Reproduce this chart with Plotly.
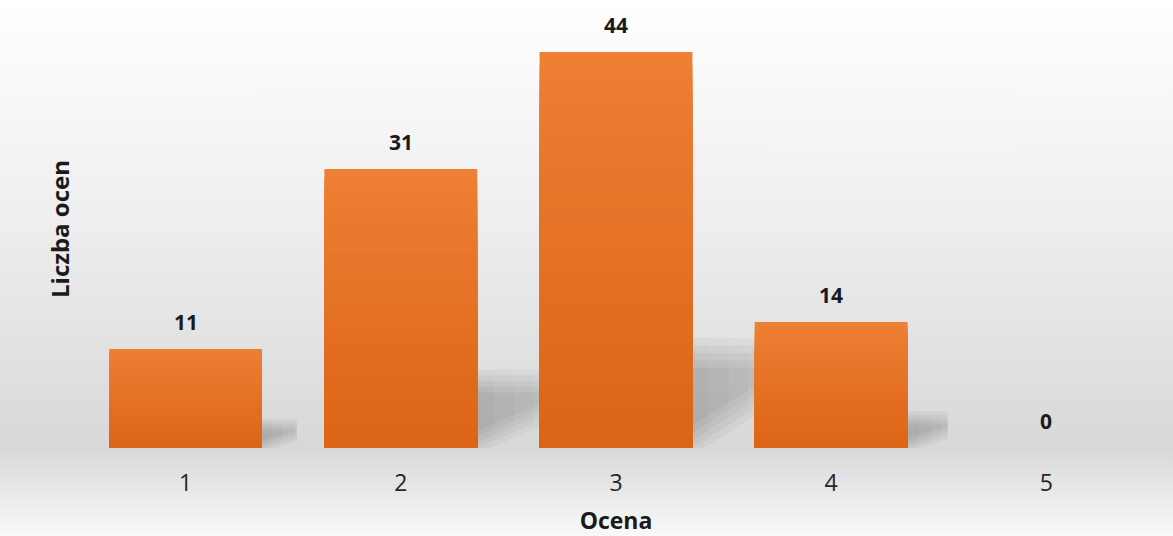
import base64
import plotly.graph_objects as go

# Rozkład ocen
oceny = ["1", "2", "3", "4", "5"]
liczba_ocen = [11, 31, 44, 14, 0]

BAR_TOP = (238, 127, 52)
BAR_BOTTOM = (220, 100, 22)
LABEL_COLOR = "#1a1a1a"
TICK_COLOR = "#262626"
FONT = "'Open Sans', sans-serif"
BAR_WIDTH = 0.71
N_BANDS = 30

# figure geometry (px)
W, H = 1173, 536
M_L, M_R, M_T, M_B = 78, 19, 10, 88
plot_w = W - M_L - M_R
plot_h = H - M_T - M_B
PX_X = plot_w / len(oceny)   # px per category
PX_Y = 9.0                   # px per unit of value
xs = list(range(len(oceny)))

# background: white at top, grey around the baseline, lighter again at the bottom
stop = (M_T + plot_h) / H
svg = f"""<svg xmlns='http://www.w3.org/2000/svg' width='{W}' height='{H}' preserveAspectRatio='none'>
<defs><linearGradient id='g' x1='0' y1='0' x2='0' y2='1'>
<stop offset='0' stop-color='#ffffff'/>
<stop offset='{stop * 0.5:.3f}' stop-color='#eeeeee'/>
<stop offset='{stop:.3f}' stop-color='#d8d8d8'/>
<stop offset='1' stop-color='#f9f9f9'/>
</linearGradient></defs>
<rect width='{W}' height='{H}' fill='url(#g)'/></svg>"""
bg_src = "data:image/svg+xml;base64," + base64.b64encode(svg.encode()).decode()

fig = go.Figure()

# soft "floating" shadow behind the right side of each bar:
# columns to the right of the bar, top ~1/4 of bar height, slanted bottom edge,
# several offset layers give blurred edges
n_col = 16
for j in range(n_col):
    s = (j + 0.5) / n_col
    for fuzz in (-2, -1, 0, 1, 2):
        offs, wids, bases, tops, cols = [], [], [], [], []
        for v in liczba_ocen:
            h = v * PX_Y
            ext = min(64, 0.2 * h + 15)
            f = 1.5 + 0.015 * h
            base_px = max(0.02 * h + 0.10 * h * s + fuzz * f, 0)
            top_px = 0.24 * h - fuzz * f
            offs.append(BAR_WIDTH / 2 + s * ext / PX_X - 0.5 * ext / n_col / PX_X)
            wids.append(ext / n_col / PX_X)
            bases.append(base_px / PX_Y)
            tops.append(max(top_px - base_px, 0) / PX_Y if v > 0 else 0)
            cols.append(f"rgba(0,0,0,{0.045 * (1 - 0.3 * s):.3f})")
        fig.add_trace(go.Bar(
            x=xs, y=tops, base=bases, offset=offs, width=wids,
            marker=dict(color=cols, line=dict(width=0)),
            hoverinfo="skip",
        ))

# bar gradient: overlaid bars, tallest (lightest) first, shorter/darker on top
for i in range(N_BANDS):
    f = 1 - i / N_BANDS
    t = f - 0.5 / N_BANDS
    c = tuple(round(b + (a - b) * t) for a, b in zip(BAR_TOP, BAR_BOTTOM))
    fig.add_trace(go.Bar(
        x=xs,
        y=[v * f for v in liczba_ocen],
        width=BAR_WIDTH,
        marker=dict(color=f"rgb{c}", line=dict(width=0)),
        customdata=liczba_ocen,
        hovertemplate="Ocena %{x}: %{customdata}<extra></extra>" if i == 0 else None,
        hoverinfo=None if i == 0 else "skip",
    ))

# value labels above bars
for i, v in enumerate(liczba_ocen):
    fig.add_annotation(
        x=i, y=v, text=f"<b>{v}</b>", showarrow=False,
        yanchor="middle", yshift=27,
        font=dict(family=FONT, size=21, color=LABEL_COLOR),
    )

fig.add_layout_image(dict(
    source=bg_src, xref="paper", yref="paper",
    x=-M_L / plot_w, y=1 + M_T / plot_h,
    sizex=W / plot_w, sizey=H / plot_h,
    xanchor="left", yanchor="top", sizing="stretch", layer="below",
))

fig.update_layout(
    width=W, height=H,
    margin=dict(l=M_L, r=M_R, t=M_T, b=M_B),
    paper_bgcolor="rgba(0,0,0,0)",
    plot_bgcolor="rgba(0,0,0,0)",
    showlegend=False,
    barmode="overlay",
    font=dict(family=FONT),
    xaxis=dict(
        type="linear", range=[-0.5, len(oceny) - 0.5],
        tickmode="array", tickvals=xs, ticktext=oceny,
        showgrid=False, zeroline=False, showline=False, automargin=False,
        ticks="outside", ticklen=14, tickcolor="rgba(0,0,0,0)",
        tickfont=dict(size=23, color=TICK_COLOR),
        title=dict(text="<b>Ocena</b>", font=dict(size=23, color=LABEL_COLOR), standoff=20),
    ),
    yaxis=dict(
        range=[0, plot_h / PX_Y],
        showgrid=False, zeroline=False, showline=False, automargin=False,
        showticklabels=False, ticks="",
        title=dict(text="<b>Liczba ocen</b>", font=dict(size=24, color=LABEL_COLOR), standoff=0),
    ),
)

fig.write_html("out.html", config={"displayModeBar": False},
               post_script="document.body.style.margin='0';")
